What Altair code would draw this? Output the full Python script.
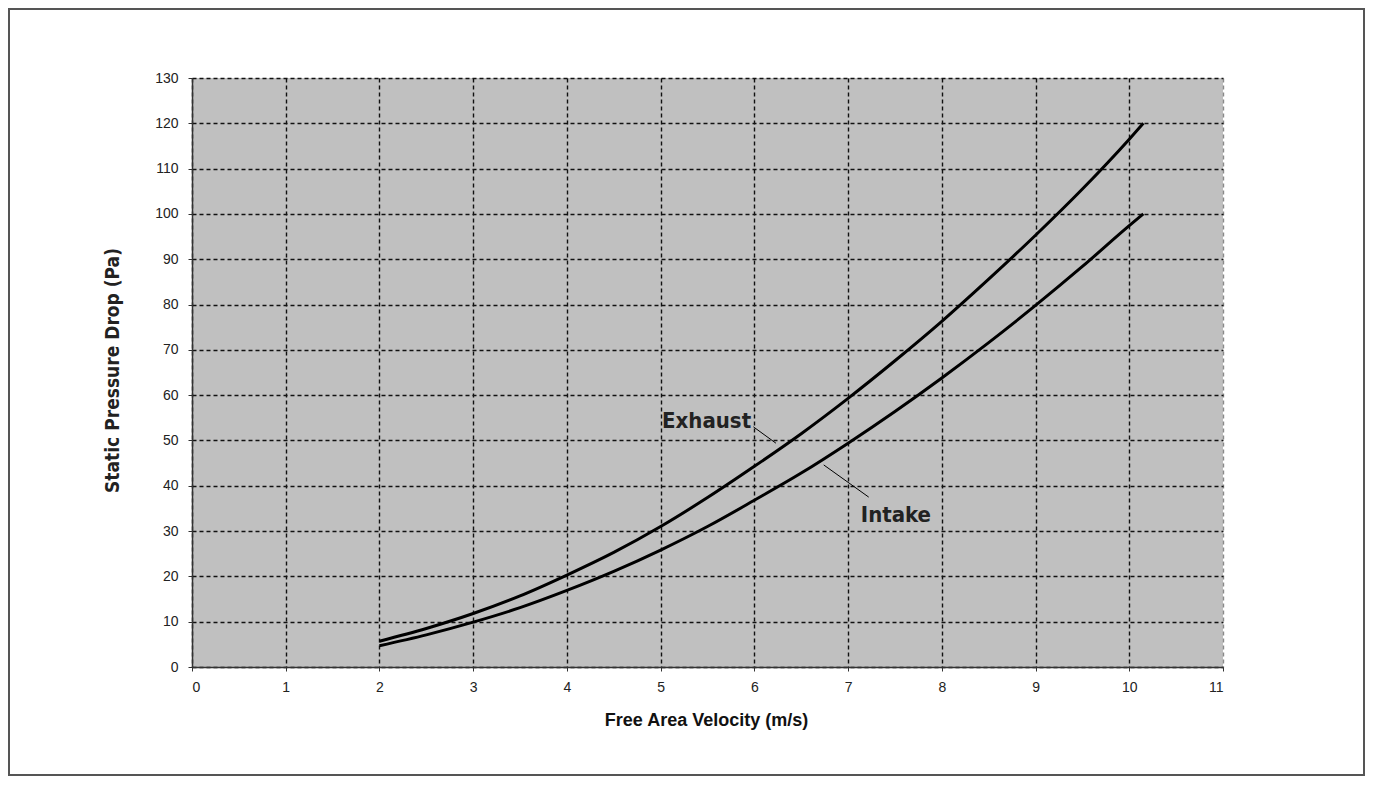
import altair as alt
import pandas as pd

# ---- data ----
velocity = [2.0, 2.5, 3.0, 3.5, 4.0, 4.5, 5.0, 5.5, 6.0, 6.5, 7.0, 7.5, 8.0, 8.5, 9.0, 9.5, 10.0, 10.15]
exhaust = [5.7, 8.5, 11.8, 15.7, 20.3, 25.3, 31.0, 37.4, 44.3, 51.5, 59.3, 67.6, 76.3, 85.6, 95.3, 105.5, 116.5, 120.0]
intake = [4.7, 7.1, 9.9, 13.1, 16.9, 21.1, 25.8, 31.0, 36.8, 42.8, 49.4, 56.4, 63.8, 71.6, 79.8, 88.4, 97.4, 100.0]

label_text = ["Exhaust", "Intake"]
label_x = [5.49, 7.51]
label_y = [52.8, 32.0]
leader_x = [5.99, 6.74]
leader_y = [53.0, 44.6]
leader_x2 = [6.23, 7.22]
leader_y2 = [49.4, 37.5]

x_ticks = list(range(0, 12))
y_ticks = list(range(0, 131, 10))

curves = pd.DataFrame(
    [{"v": v, "p": p, "series": "Exhaust"} for v, p in zip(velocity, exhaust)]
    + [{"v": v, "p": p, "series": "Intake"} for v, p in zip(velocity, intake)]
)
labels = pd.DataFrame({"text": label_text, "x": label_x, "y": label_y})
leaders = pd.DataFrame({"x": leader_x, "y": leader_y, "x2": leader_x2, "y2": leader_y2})

narrow = "Liberation Sans Narrow, DejaVu Sans Condensed, Roboto, sans-serif"
regular = "Liberation Sans, Arial, sans-serif"

grid_color = {"condition": {"test": "datum.value == 11", "value": "#8a8a8a"}, "value": "#111111"}

x_scale = alt.Scale(domain=[0, 11], nice=False, zero=False)
y_scale = alt.Scale(domain=[0, 130], nice=False)

x_axis = alt.Axis(
    values=x_ticks, format="d", grid=True, gridColor=grid_color, gridDash=[4, 3], gridWidth=1.4,
    labelFont=regular, labelFontSize=14, labelColor="#222", labelPadding=9, labelBaseline="top",
    tickSize=4, tickColor="#333", domainColor="#333", domainWidth=1.5,
    title="Free Area Velocity (m/s)", titleFont=regular, titleFontSize=18, titleFontWeight="bold",
    titleColor="#111", titleX=514, titleY=53, titleBaseline="middle", titleAlign="center",
)
y_axis = alt.Axis(
    values=y_ticks, format="d", grid=True, gridColor="#111111", gridDash=[4, 3], gridWidth=1.4,
    labelFont=regular, labelFontSize=14, labelColor="#222", labelPadding=10,
    tickSize=4, tickColor="#333", domainColor="#333", domainWidth=1.5,
    title="Static Pressure Drop (Pa)", titleFont=narrow, titleFontSize=19, titleFontWeight="bold",
    titleColor="#222", titleX=-80, titleY=292, titleAngle=-90, titleBaseline="middle", titleAlign="center",
)

lines = alt.Chart(curves).mark_line(color="black", strokeWidth=3, interpolate="monotone").encode(
    x=alt.X("v:Q", scale=x_scale, axis=x_axis),
    y=alt.Y("p:Q", scale=y_scale, axis=y_axis),
    detail="series:N",
)

leader_rules = alt.Chart(leaders).mark_rule(color="black", strokeWidth=1).encode(
    x="x:Q", y="y:Q", x2="x2:Q", y2="y2:Q"
)

texts = alt.Chart(labels).mark_text(
    font=narrow, fontSize=22, fontWeight="bold", color="#222", align="center", baseline="alphabetic"
).encode(x="x:Q", y="y:Q", text="text:N")

frame = alt.Chart(alt.Data(values=[{"a": 1}])).mark_rect(
    fill=None, stroke="#555555", strokeWidth=2
).encode(
    x=alt.value(-183), x2=alt.value(1172), y=alt.value(-69), y2=alt.value(697)
)

chart = alt.layer(lines, leader_rules, texts, frame).properties(
    width=1031, height=589,
    autosize=alt.AutoSizeParams(type="none"),
    padding={"left": 184, "top": 70, "right": 142, "bottom": 110},
).configure_view(fill="#c0c0c0", stroke=None)

chart.save("out.html", embed_options={"renderer": "svg", "actions": False})
